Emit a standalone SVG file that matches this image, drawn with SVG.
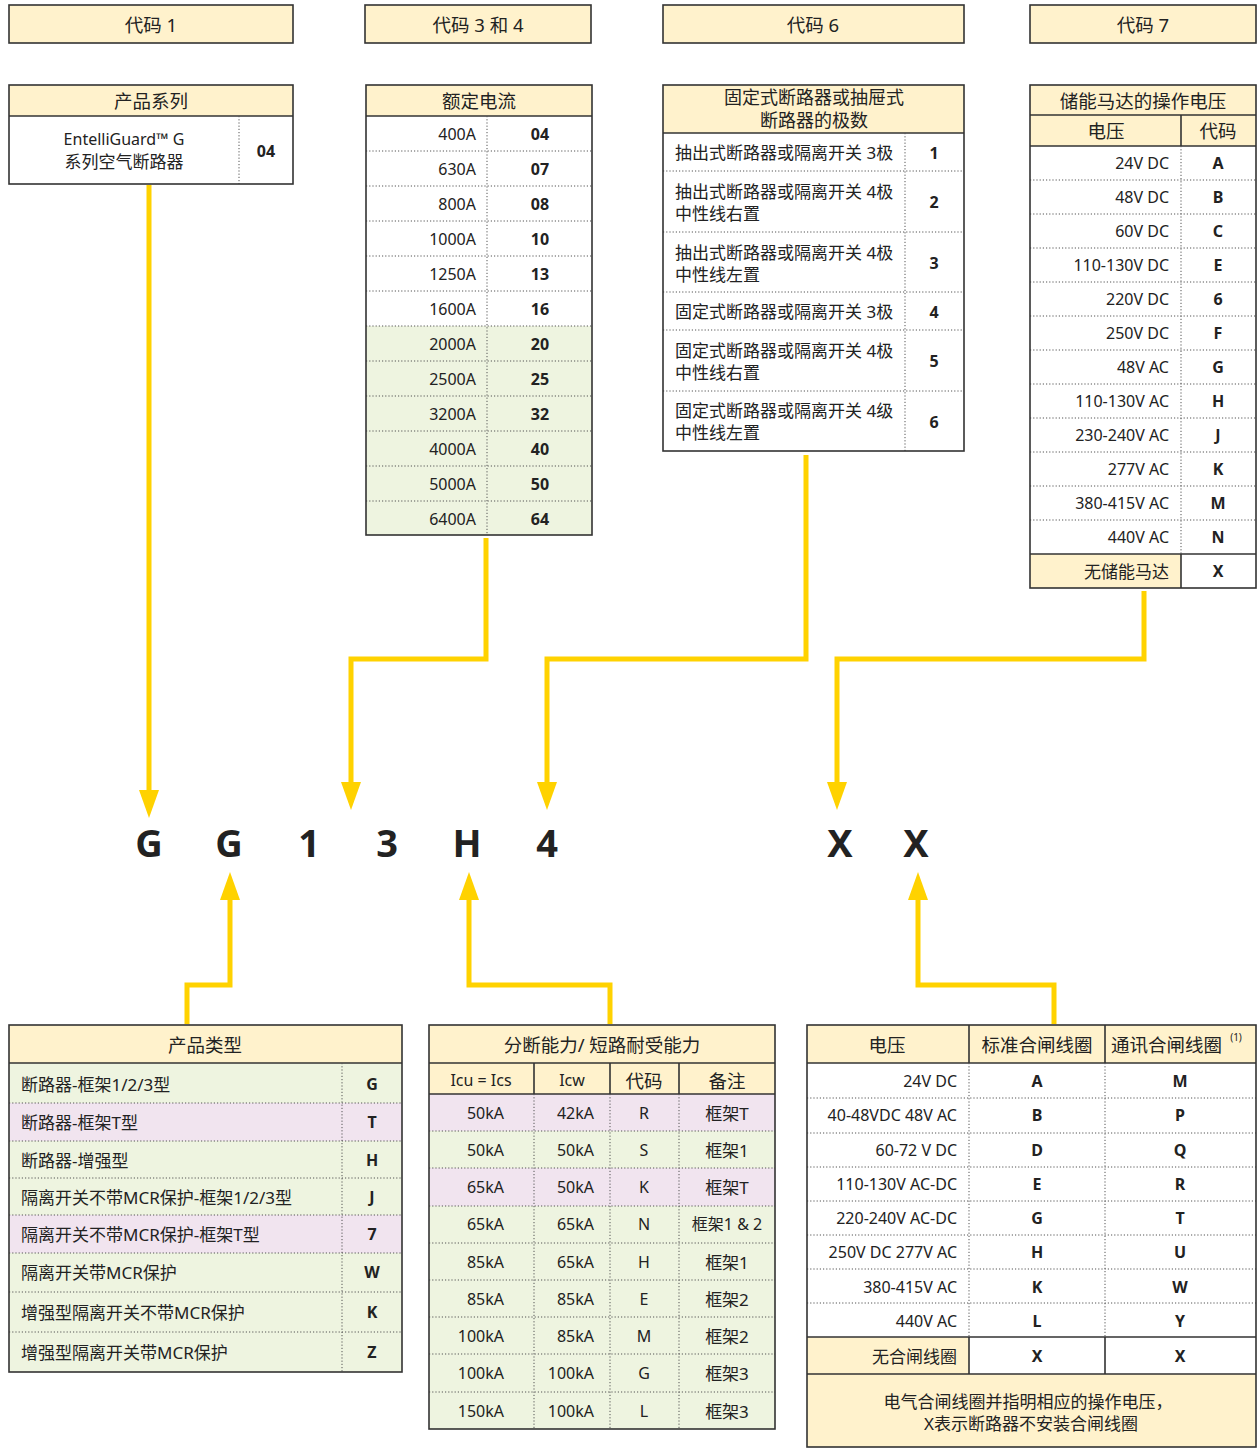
<svg xmlns="http://www.w3.org/2000/svg" width="1258" height="1448" viewBox="0 0 1258 1448">
<style>
text{font-family:"Noto Sans","Noto Sans CJK SC",sans-serif;fill:#222;dominant-baseline:central}
.h{font-size:18.5px;text-anchor:middle}
.t{font-size:16px}
.k{font-size:17px}
.c{text-anchor:middle}
.r{text-anchor:end}
.b{font-weight:700}
.big{font-size:38px;font-weight:700;text-anchor:middle;dominant-baseline:alphabetic}
.box{fill:none;stroke:#333;stroke-width:1.6}
.y{fill:#FFF2CC}
.g{fill:#EEF4E0}
.p{fill:#F1E4EF}
.w{fill:#fff}
.dot{stroke:#555;stroke-width:1;stroke-dasharray:1.2 2;fill:none}
.sol{stroke:#333;stroke-width:1.6;fill:none}
.con{stroke:#FFD200;stroke-width:5;fill:none;marker-end:url(#ah)}
</style>
<defs>
<marker id="ah" markerUnits="userSpaceOnUse" markerWidth="28" markerHeight="20" viewBox="0 0 28 20" refX="0" refY="10" orient="auto">
<path d="M0,0 L28,10 L0,20 z" fill="#FFD200"/>
</marker>
</defs>

<g id="hdr-code1"><rect x="9" y="5" width="284" height="38" class="y"/><rect x="9" y="5" width="284" height="38" class="box"/><text x="151" y="24" class="h">代码 1</text></g>
<g id="hdr-code34"><rect x="365" y="5" width="226" height="38" class="y"/><rect x="365" y="5" width="226" height="38" class="box"/><text x="478" y="24" class="h">代码 3 和 4</text></g>
<g id="hdr-code6"><rect x="663" y="5" width="301" height="38" class="y"/><rect x="663" y="5" width="301" height="38" class="box"/><text x="813" y="24" class="h">代码 6</text></g>
<g id="hdr-code7"><rect x="1030" y="5" width="226" height="38" class="y"/><rect x="1030" y="5" width="226" height="38" class="box"/><text x="1143" y="24" class="h">代码 7</text></g>

<g id="product-series">
<rect x="9" y="85" width="284" height="99" class="w"/>
<rect x="9" y="85" width="284" height="31" class="y"/>
<line x1="9" y1="116" x2="293" y2="116" class="sol"/>
<line x1="239" y1="116" x2="239" y2="184" class="dot"/>
<rect x="9" y="85" width="284" height="99" class="box"/>
<text x="151" y="100" class="h">产品系列</text>
<text x="124" y="139" class="t c">EntelliGuard™ G</text>
<text x="124" y="161" class="k c">系列空气断路器</text>
<text x="266" y="151" class="t c b">04</text>
</g>

<g id="rated-current">
<rect x="366" y="85" width="226" height="450" class="w"/>
<rect x="366" y="326" width="226" height="209" class="g"/>
<rect x="366" y="85" width="226" height="31" class="y"/>
<line x1="366" y1="116" x2="592" y2="116" class="sol"/>
<path class="dot" d="M366,151H592M366,186H592M366,221H592M366,256H592M366,291H592M366,326H592M366,361H592M366,396H592M366,431H592M366,466H592M366,501H592M487,116V535"/>
<rect x="366" y="85" width="226" height="450" class="box"/>
<text x="479" y="100" class="h">额定电流</text>
<text x="476" y="133.5" class="t r">400A</text><text x="540" y="133.5" class="t c b">04</text>
<text x="476" y="168.5" class="t r">630A</text><text x="540" y="168.5" class="t c b">07</text>
<text x="476" y="203.5" class="t r">800A</text><text x="540" y="203.5" class="t c b">08</text>
<text x="476" y="238.5" class="t r">1000A</text><text x="540" y="238.5" class="t c b">10</text>
<text x="476" y="273.5" class="t r">1250A</text><text x="540" y="273.5" class="t c b">13</text>
<text x="476" y="308.5" class="t r">1600A</text><text x="540" y="308.5" class="t c b">16</text>
<text x="476" y="343.5" class="t r">2000A</text><text x="540" y="343.5" class="t c b">20</text>
<text x="476" y="378.5" class="t r">2500A</text><text x="540" y="378.5" class="t c b">25</text>
<text x="476" y="413.5" class="t r">3200A</text><text x="540" y="413.5" class="t c b">32</text>
<text x="476" y="448.5" class="t r">4000A</text><text x="540" y="448.5" class="t c b">40</text>
<text x="476" y="483.5" class="t r">5000A</text><text x="540" y="483.5" class="t c b">50</text>
<text x="476" y="518.5" class="t r">6400A</text><text x="540" y="518.5" class="t c b">64</text>
</g>

<g id="poles">
<rect x="663" y="85" width="301" height="366" class="w"/>
<rect x="663" y="85" width="301" height="48" class="y"/>
<line x1="663" y1="133" x2="964" y2="133" class="sol"/>
<path class="dot" d="M663,171H964M663,232H964M663,292H964M663,330H964M663,391H964M905,133V451"/>
<rect x="663" y="85" width="301" height="366" class="box"/>
<text x="814" y="97" class="h" style="font-size:18px">固定式断路器或抽屉式</text>
<text x="814" y="120" class="h" style="font-size:18px">断路器的极数</text>
<text x="675" y="152" class="k">抽出式断路器或隔离开关 3极</text><text x="934" y="153" class="t c b">1</text>
<text x="675" y="191" class="k">抽出式断路器或隔离开关 4极</text><text x="675" y="213" class="k">中性线右置</text><text x="934" y="202" class="t c b">2</text>
<text x="675" y="252" class="k">抽出式断路器或隔离开关 4极</text><text x="675" y="274" class="k">中性线左置</text><text x="934" y="263" class="t c b">3</text>
<text x="675" y="311" class="k">固定式断路器或隔离开关 3极</text><text x="934" y="312" class="t c b">4</text>
<text x="675" y="350" class="k">固定式断路器或隔离开关 4极</text><text x="675" y="372" class="k">中性线右置</text><text x="934" y="361" class="t c b">5</text>
<text x="675" y="410" class="k">固定式断路器或隔离开关 4级</text><text x="675" y="432" class="k">中性线左置</text><text x="934" y="422" class="t c b">6</text>
</g>

<g id="motor-voltage">
<rect x="1030" y="85" width="226" height="503" class="w"/>
<rect x="1030" y="85" width="226" height="61" class="y"/>
<rect x="1030" y="554" width="151" height="34" class="y"/>
<line x1="1030" y1="115" x2="1256" y2="115" class="sol"/>
<line x1="1030" y1="146" x2="1256" y2="146" class="sol"/>
<line x1="1181" y1="115" x2="1181" y2="146" class="sol"/>
<path class="dot" d="M1030,180H1256M1030,214H1256M1030,248H1256M1030,282H1256M1030,316H1256M1030,350H1256M1030,384H1256M1030,418H1256M1030,452H1256M1030,486H1256M1030,520H1256M1181,146V554"/>
<line x1="1030" y1="554" x2="1256" y2="554" class="sol"/>
<line x1="1181" y1="554" x2="1181" y2="588" class="sol"/>
<rect x="1030" y="85" width="226" height="503" class="box"/>
<text x="1143" y="100" class="h">储能马达的操作电压</text>
<text x="1106" y="130" class="h">电压</text>
<text x="1218" y="130" class="h">代码</text>
<text x="1169" y="163" class="t r">24V DC</text><text x="1218" y="163" class="t c b">A</text>
<text x="1169" y="197" class="t r">48V DC</text><text x="1218" y="197" class="t c b">B</text>
<text x="1169" y="231" class="t r">60V DC</text><text x="1218" y="231" class="t c b">C</text>
<text x="1169" y="265" class="t r">110-130V DC</text><text x="1218" y="265" class="t c b">E</text>
<text x="1169" y="299" class="t r">220V DC</text><text x="1218" y="299" class="t c b">6</text>
<text x="1169" y="333" class="t r">250V DC</text><text x="1218" y="333" class="t c b">F</text>
<text x="1169" y="367" class="t r">48V AC</text><text x="1218" y="367" class="t c b">G</text>
<text x="1169" y="401" class="t r">110-130V AC</text><text x="1218" y="401" class="t c b">H</text>
<text x="1169" y="435" class="t r">230-240V AC</text><text x="1218" y="435" class="t c b">J</text>
<text x="1169" y="469" class="t r">277V AC</text><text x="1218" y="469" class="t c b">K</text>
<text x="1169" y="503" class="t r">380-415V AC</text><text x="1218" y="503" class="t c b">M</text>
<text x="1169" y="537" class="t r">440V AC</text><text x="1218" y="537" class="t c b">N</text>
<text x="1169" y="571" class="k r">无储能马达</text><text x="1218" y="571" class="t c b">X</text>
</g>

<g id="code-letters">
<text x="149" y="857" class="big">G</text>
<text x="229" y="857" class="big">G</text>
<text x="309" y="857" class="big">1</text>
<text x="387" y="857" class="big">3</text>
<text x="467" y="857" class="big">H</text>
<text x="547" y="857" class="big">4</text>
<text x="840" y="857" class="big">X</text>
<text x="916" y="857" class="big">X</text>
</g>

<g id="product-type">
<rect x="9" y="1025" width="393" height="347" class="g"/>
<rect x="9" y="1103" width="393" height="38" class="p"/>
<rect x="9" y="1215" width="393" height="38" class="p"/>
<rect x="9" y="1025" width="393" height="38" class="y"/>
<line x1="9" y1="1063" x2="402" y2="1063" class="sol"/>
<path class="dot" d="M9,1103H402M9,1141H402M9,1178H402M9,1215H402M9,1253H402M9,1292H402M9,1332H402M342,1063V1372"/>
<rect x="9" y="1025" width="393" height="347" class="box"/>
<text x="205" y="1044" class="h">产品类型</text>
<text x="21" y="1084" class="k">断路器-框架1/2/3型</text><text x="372" y="1084" class="t c b">G</text>
<text x="21" y="1122" class="k">断路器-框架T型</text><text x="372" y="1122" class="t c b">T</text>
<text x="21" y="1160" class="k">断路器-增强型</text><text x="372" y="1160" class="t c b">H</text>
<text x="21" y="1197" class="k">隔离开关不带MCR保护-框架1/2/3型</text><text x="372" y="1197" class="t c b">J</text>
<text x="21" y="1234" class="k">隔离开关不带MCR保护-框架T型</text><text x="372" y="1234" class="t c b">7</text>
<text x="21" y="1272" class="k">隔离开关带MCR保护</text><text x="372" y="1272" class="t c b">W</text>
<text x="21" y="1312" class="k">增强型隔离开关不带MCR保护</text><text x="372" y="1312" class="t c b">K</text>
<text x="21" y="1352" class="k">增强型隔离开关带MCR保护</text><text x="372" y="1352" class="t c b">Z</text>
</g>

<g id="breaking-capacity">
<rect x="429" y="1025" width="346" height="404" class="g"/>
<rect x="429" y="1094" width="346" height="37" class="p"/>
<rect x="429" y="1168" width="346" height="38" class="p"/>
<rect x="429" y="1025" width="346" height="69" class="y"/>
<line x1="429" y1="1063" x2="775" y2="1063" class="sol"/>
<line x1="429" y1="1094" x2="775" y2="1094" class="sol"/>
<path class="sol" d="M534,1063V1094M610,1063V1094M679,1063V1094"/>
<path class="dot" d="M429,1131H775M429,1168H775M429,1206H775M429,1243H775M429,1280H775M429,1317H775M429,1354H775M429,1392H775M534,1094V1429M610,1094V1429M679,1094V1429"/>
<rect x="429" y="1025" width="346" height="404" class="box"/>
<text x="602" y="1044" class="h">分断能力/ 短路耐受能力</text>
<text x="481" y="1080" class="t c">Icu = Ics</text>
<text x="572" y="1080" class="t c">Icw</text>
<text x="644" y="1080" class="h">代码</text>
<text x="727" y="1080" class="h">备注</text>
<text x="504" y="1113" class="t r">50kA</text><text x="594" y="1113" class="t r">42kA</text><text x="644" y="1113" class="t c">R</text><text x="727" y="1113" class="k c">框架T</text>
<text x="504" y="1150" class="t r">50kA</text><text x="594" y="1150" class="t r">50kA</text><text x="644" y="1150" class="t c">S</text><text x="727" y="1150" class="k c">框架1</text>
<text x="504" y="1187" class="t r">65kA</text><text x="594" y="1187" class="t r">50kA</text><text x="644" y="1187" class="t c">K</text><text x="727" y="1187" class="k c">框架T</text>
<text x="504" y="1224" class="t r">65kA</text><text x="594" y="1224" class="t r">65kA</text><text x="644" y="1224" class="t c">N</text><text x="727" y="1224" class="t c">框架1 &amp; 2</text>
<text x="504" y="1262" class="t r">85kA</text><text x="594" y="1262" class="t r">65kA</text><text x="644" y="1262" class="t c">H</text><text x="727" y="1262" class="k c">框架1</text>
<text x="504" y="1299" class="t r">85kA</text><text x="594" y="1299" class="t r">85kA</text><text x="644" y="1299" class="t c">E</text><text x="727" y="1299" class="k c">框架2</text>
<text x="504" y="1336" class="t r">100kA</text><text x="594" y="1336" class="t r">85kA</text><text x="644" y="1336" class="t c">M</text><text x="727" y="1336" class="k c">框架2</text>
<text x="504" y="1373" class="t r">100kA</text><text x="594" y="1373" class="t r">100kA</text><text x="644" y="1373" class="t c">G</text><text x="727" y="1373" class="k c">框架3</text>
<text x="504" y="1411" class="t r">150kA</text><text x="594" y="1411" class="t r">100kA</text><text x="644" y="1411" class="t c">L</text><text x="727" y="1411" class="k c">框架3</text>
</g>

<g id="closing-coil">
<rect x="807" y="1025" width="449" height="422" class="w"/>
<rect x="807" y="1025" width="449" height="38" class="y"/>
<rect x="807" y="1337" width="162" height="37" class="y"/>
<rect x="807" y="1374" width="449" height="73" class="y"/>
<line x1="807" y1="1063" x2="1256" y2="1063" class="sol"/>
<path class="sol" d="M969,1025V1063M1105,1025V1063"/>
<path class="dot" d="M807,1098H1256M807,1133H1256M807,1167H1256M807,1201H1256M807,1235H1256M807,1269H1256M807,1303H1256M969,1063V1337M1105,1063V1337"/>
<path class="sol" d="M807,1337H1256M807,1374H1256M969,1337V1374M1105,1337V1374"/>
<rect x="807" y="1025" width="449" height="422" class="box"/>
<text x="887" y="1044" class="h">电压</text>
<text x="1037" y="1044" class="h">标准合闸线圈</text>
<text x="1111" y="1044" class="h" style="text-anchor:start">通讯合闸线圈</text>
<text x="1236" y="1037" style="font-size:10px;text-anchor:middle">(1)</text>
<text x="957" y="1081" class="t r">24V DC</text><text x="1037" y="1081" class="t c b">A</text><text x="1180" y="1081" class="t c b">M</text>
<text x="957" y="1115" class="t r">40-48VDC 48V AC</text><text x="1037" y="1115" class="t c b">B</text><text x="1180" y="1115" class="t c b">P</text>
<text x="957" y="1150" class="t r">60-72 V DC</text><text x="1037" y="1150" class="t c b">D</text><text x="1180" y="1150" class="t c b">Q</text>
<text x="957" y="1184" class="t r">110-130V  AC-DC</text><text x="1037" y="1184" class="t c b">E</text><text x="1180" y="1184" class="t c b">R</text>
<text x="957" y="1218" class="t r">220-240V  AC-DC</text><text x="1037" y="1218" class="t c b">G</text><text x="1180" y="1218" class="t c b">T</text>
<text x="957" y="1252" class="t r">250V DC 277V AC</text><text x="1037" y="1252" class="t c b">H</text><text x="1180" y="1252" class="t c b">U</text>
<text x="957" y="1287" class="t r">380-415V AC</text><text x="1037" y="1287" class="t c b">K</text><text x="1180" y="1287" class="t c b">W</text>
<text x="957" y="1321" class="t r">440V AC</text><text x="1037" y="1321" class="t c b">L</text><text x="1180" y="1321" class="t c b">Y</text>
<text x="957" y="1356" class="k r">无合闸线圈</text><text x="1037" y="1356" class="t c b">X</text><text x="1180" y="1356" class="t c b">X</text>
<text x="1028" y="1401" class="k c">电气合闸线圈并指明相应的操作电压，</text>
<text x="1031" y="1423" class="k c">X表示断路器不安装合闸线圈</text>
</g>

<g id="connectors">
<path class="con" d="M149,185V790"/>
<path class="con" d="M486,538V659H351V782"/>
<path class="con" d="M806,455V659H547V782"/>
<path class="con" d="M1144,591V659H837V782"/>
<path class="con" d="M187,1024V985H230V900"/>
<path class="con" d="M610,1024V985H469V900"/>
<path class="con" d="M1054,1024V985H918V900"/>
</g>
</svg>
